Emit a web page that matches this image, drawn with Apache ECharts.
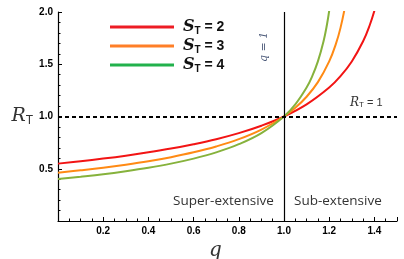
<!DOCTYPE html>
<html><head><meta charset="utf-8">
<script src="https://cdn.jsdelivr.net/npm/echarts@6/dist/echarts.min.js"></script>
<style>html,body{margin:0;padding:0;background:#fff}#c{width:404px;height:259px}</style>
</head><body><div id="c"></div>
<script>
// Data
const seriesNames = ['S2', 'S3', 'S4'];
const legendLabels = ['2', '3', '4'];
const q_S2 = [0, 0.1, 0.2, 0.3, 0.4, 0.5, 0.6, 0.7, 0.8, 0.9, 1.0, 1.1, 1.2, 1.25, 1.3, 1.35, 1.38, 1.4];
const r_S2 = [0.549, 0.572, 0.597, 0.625, 0.657, 0.693, 0.735, 0.783, 0.841, 0.912, 1.0, 1.116, 1.277, 1.386, 1.527, 1.72, 1.878, 2.012];
const q_S3 = [0, 0.1, 0.2, 0.3, 0.4, 0.5, 0.6, 0.7, 0.8, 0.9, 1.0, 1.05, 1.1, 1.15, 1.2, 1.23, 1.25, 1.27];
const r_S3 = [0.462, 0.485, 0.51, 0.539, 0.572, 0.611, 0.657, 0.713, 0.783, 0.875, 1.0, 1.083, 1.189, 1.329, 1.527, 1.697, 1.848, 2.05];
const q_S4 = [0, 0.1, 0.2, 0.3, 0.4, 0.5, 0.6, 0.7, 0.8, 0.9, 1.0, 1.05, 1.1, 1.125, 1.15, 1.175, 1.19, 1.2];
const r_S4 = [0.402, 0.424, 0.448, 0.477, 0.51, 0.549, 0.597, 0.657, 0.735, 0.841, 1.0, 1.116, 1.277, 1.386, 1.527, 1.72, 1.878, 2.012];
const xTicks = [0.2, 0.4, 0.6, 0.8, 1.0, 1.2, 1.4];
const yTicks = [0.5, 1.0, 1.5, 2.0];

const curveColors = ['#f21414', '#ff8a14', '#86b23c'];
const legendColors = ['#ed1c24', '#ff7f27', '#22b14c'];

function pairs(qs, rs) { return qs.map((q, i) => [q, rs[i]]); }
const allQ = [q_S2, q_S3, q_S4];
const allR = [r_S2, r_S3, r_S4];

const chart = echarts.init(document.getElementById('c'), null, {renderer: 'canvas'});
const tickFont = {fontFamily: 'Liberation Sans, Arial, sans-serif', fontSize: 10, fontWeight: 'bold', color: '#000'};

const series = seriesNames.map((n, i) => ({
  name: n,
  type: 'line',
  data: pairs(allQ[i], allR[i]),
  smooth: 0.4,
  symbol: 'none',
  clip: true,
  lineStyle: {color: curveColors[i], width: 2},
  itemStyle: {color: legendColors[i]},
  z: 3
}));
series[0].markLine = {
  silent: true, symbol: 'none', label: {show: false}, animation: false,
  data: [
    {yAxis: 1, lineStyle: {type: [4, 3], color: '#000', width: 1.8}},
    {xAxis: 1, lineStyle: {type: 'solid', color: '#000', width: 1.2}}
  ]
};

chart.setOption({
  animation: false,
  grid: {left: 58, right: 7, top: 12, bottom: 38, containLabel: false, outerBoundsMode: 'none'},
  legend: {
    orient: 'vertical', left: 105, top: 14,
    itemWidth: 64, itemHeight: 3, itemGap: 2,
    icon: 'rect',
    data: seriesNames.map((n, i) => ({name: n, itemStyle: {color: legendColors[i]}})),
    formatter: name => '{s|S}{t|T}{e| = ' + legendLabels[seriesNames.indexOf(name)] + '}',
    textStyle: {
      padding: [0, 0, 0, 4],
      rich: {
        s: {fontFamily: 'DejaVu Serif, serif', fontStyle: 'italic', fontWeight: 'bold', fontSize: 16, color: '#111', height: 18},
        t: {fontFamily: 'Liberation Sans, Arial, sans-serif', fontWeight: 'bold', fontSize: 10, color: '#111', verticalAlign: 'bottom', padding: [6, 0, 0, 0]},
        e: {fontFamily: 'Liberation Sans, Arial, sans-serif', fontWeight: 'bold', fontSize: 14, color: '#111'}
      }
    }
  },
  xAxis: {
    type: 'value', min: 0, max: 1.5, interval: 0.2,
    name: 'q', nameLocation: 'middle', nameGap: 14,
    nameTextStyle: {fontFamily: 'DejaVu Serif, serif', fontStyle: 'italic', fontSize: 20, color: '#333', padding: [0, 24, 0, 0]},
    axisLine: {lineStyle: {color: '#000', width: 1.2}},
    axisTick: {inside: true, length: 4, lineStyle: {color: '#000'}},
    minorTick: {show: true, splitNumber: 4, length: 2.5, lineStyle: {color: '#000'}},
    splitLine: {show: false},
    axisLabel: {
      ...tickFont, margin: 5, showMaxLabel: false,
      formatter: v => (xTicks.some(t => Math.abs(t - v) < 1e-6) ? v.toFixed(1) : '')
    }
  },
  yAxis: {
    type: 'value', min: 0, max: 2, interval: 0.5,
    name: '{r|R}{t|T}', nameLocation: 'middle', nameGap: 20, nameRotate: 0,
    nameTextStyle: {
      rich: {
        r: {fontFamily: 'DejaVu Serif, serif', fontStyle: 'italic', fontSize: 19, color: '#333'},
        t: {fontFamily: 'Liberation Sans, Arial, sans-serif', fontSize: 12, color: '#333', verticalAlign: 'bottom', padding: [8, 0, 0, 0]}
      }
    },
    axisLine: {lineStyle: {color: '#000', width: 1.2}},
    axisTick: {inside: true, length: 4, lineStyle: {color: '#000'}},
    minorTick: {show: true, splitNumber: 5, length: 2.5, lineStyle: {color: '#000'}},
    splitLine: {show: false},
    axisLabel: {
      ...tickFont, margin: 5,
      formatter: v => (yTicks.some(t => Math.abs(t - v) < 1e-6) ? v.toFixed(1) : '')
    }
  },
  graphic: [
    {type: 'text', x: 259, y: 62, rotation: Math.PI / 2, style: {
      text: 'q = 1', fill: '#4a5878', font: 'italic 11px DejaVu Serif, serif', textAlign: 'left', textVerticalAlign: 'top'}},
    {type: 'text', x: 350, y: 96, style: {
      text: '{r|R}{t|T}{e| = 1}', fill: '#333', textVerticalAlign: 'top',
      rich: {
        r: {fontFamily: 'DejaVu Serif, serif', fontStyle: 'italic', fontSize: 12, fill: '#333'},
        t: {fontFamily: 'Liberation Sans, Arial, sans-serif', fontSize: 8, fill: '#333', verticalAlign: 'bottom', padding: [5, 0, 0, 0]},
        e: {fontFamily: 'Liberation Sans, Arial, sans-serif', fontSize: 11, fill: '#333'}
      }}},
    {type: 'text', x: 173, y: 194, style: {text: 'Super-extensive', fill: '#333', font: '13.5px Open Sans, sans-serif', textVerticalAlign: 'top'}},
    {type: 'text', x: 294, y: 194, style: {text: 'Sub-extensive', fill: '#333', font: '13.5px Open Sans, sans-serif', textVerticalAlign: 'top'}}
  ],
  series: series
});
</script></body></html>
